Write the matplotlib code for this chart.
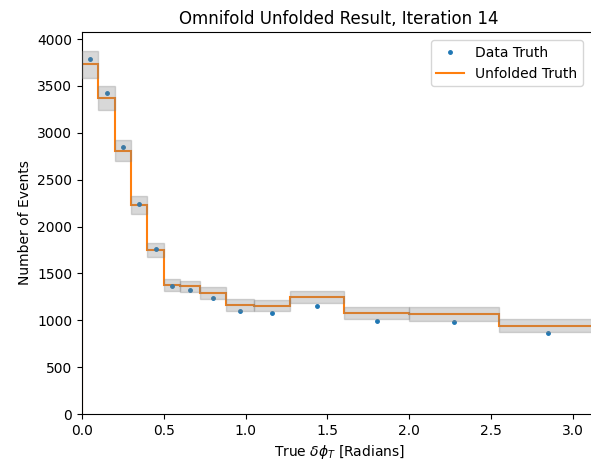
import numpy as np
import matplotlib
matplotlib.use("Agg")
import matplotlib.pyplot as plt

# bin edges in delta phi_T
edges = [0.0, 0.1, 0.2, 0.3, 0.4, 0.5, 0.6, 0.72, 0.88, 1.05, 1.27, 1.6, 2.0, 2.55, np.pi]

# truth-level data counts per bin
data_truth = [3787, 3428, 2848, 2237, 1755, 1362, 1319, 1237, 1099, 1077, 1152, 989, 985, 867]

# omnifold result and its uncertainty per bin
unfolded = [3730, 3374, 2809, 2226, 1749, 1373, 1362, 1294, 1163, 1156, 1245, 1074, 1063, 942]
unfolded_err = [147, 130, 112, 95, 78, 62, 60, 62, 60, 56, 64, 64, 76, 69]

edges = np.array(edges)
centers = 0.5 * (edges[1:] + edges[:-1])
widths = edges[1:] - edges[:-1]
unfolded = np.array(unfolded)
unfolded_err = np.array(unfolded_err)

fig = plt.figure(figsize=(5.91, 4.61), dpi=100)
ax = fig.add_axes([82 / 591, 47 / 461, 514 / 591, 382 / 461])

ax.plot(centers, data_truth, '.', color='tab:blue', markersize=5, label='Data Truth')
ax.stairs(unfolded, edges, color='tab:orange', linewidth=1.5, label='Unfolded Truth')
# uncertainty boxes go over the line
ax.bar(centers, 2 * unfolded_err, width=widths, bottom=unfolded - unfolded_err,
       color='gray', alpha=0.3, edgecolor='gray', linewidth=1, zorder=3)

ax.set_xlim(0, np.pi)
ax.set_ylim(0, 4075)
ax.set_title('Omnifold Unfolded Result, Iteration 14')
ax.set_xlabel(r'True $\delta\phi_T$ [Radians]')
ax.set_ylabel('Number of Events')
ax.legend(loc='upper right', bbox_to_anchor=(583 / 591, 1 - 40 / 461),
          bbox_transform=fig.transFigure, borderaxespad=0)

fig.savefig('out.png', dpi=100)
